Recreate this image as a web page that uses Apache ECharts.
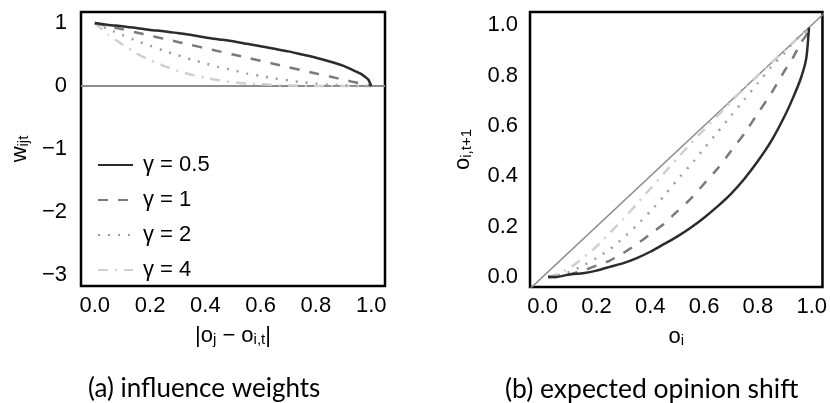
<!DOCTYPE html>
<html>
<head>
<meta charset="utf-8">
<script src="https://cdn.jsdelivr.net/npm/echarts@6/dist/echarts.min.js"></script>
<style>
  html, body { margin: 0; padding: 0; background: #fff; }
  #chart { width: 830px; height: 403px; }
</style>
</head>
<body>
<div id="chart"></div>
<script>
// (a) influence weights: distance |o_j - o_i,t| against weight
const distA = [0, 0.05, 0.1, 0.15, 0.2, 0.25, 0.3, 0.35, 0.4, 0.45, 0.5, 0.55, 0.6, 0.65, 0.7, 0.75, 0.8, 0.85, 0.9, 0.93, 0.96, 0.98, 0.99, 1.0];
const weightG05 = [1, 0.97, 0.95, 0.92, 0.89, 0.87, 0.84, 0.81, 0.77, 0.74, 0.71, 0.67, 0.63, 0.59, 0.55, 0.5, 0.45, 0.39, 0.32, 0.26, 0.2, 0.14, 0.1, 0];
const weightG1 = [1, 0.95, 0.9, 0.85, 0.8, 0.75, 0.7, 0.65, 0.6, 0.55, 0.5, 0.45, 0.4, 0.35, 0.3, 0.25, 0.2, 0.15, 0.1, 0.07, 0.04, 0.02, 0.01, 0];
const weightG2 = [1, 0.9, 0.81, 0.72, 0.64, 0.56, 0.49, 0.42, 0.36, 0.3, 0.25, 0.2, 0.16, 0.12, 0.09, 0.06, 0.04, 0.02, 0.01, 0.005, 0, 0, 0, 0];
const weightG4 = [1, 0.81, 0.66, 0.52, 0.41, 0.32, 0.24, 0.18, 0.13, 0.09, 0.06, 0.04, 0.03, 0.015, 0.01, 0.004, 0, 0, 0, 0, 0, 0, 0, 0];

// (b) expected opinion shift: o_i against o_i,t+1
const opinionB = [0.02, 0.05, 0.1, 0.15, 0.2, 0.25, 0.3, 0.35, 0.4, 0.45, 0.5, 0.55, 0.6, 0.65, 0.7, 0.75, 0.8, 0.85, 0.9, 0.93, 0.96, 0.98, 0.99];
const shiftG05 = [0, 0, 0.01, 0.015, 0.025, 0.04, 0.055, 0.075, 0.1, 0.13, 0.16, 0.195, 0.235, 0.28, 0.33, 0.39, 0.46, 0.54, 0.64, 0.71, 0.79, 0.87, 0.99];
const shiftG1 = [0, 0, 0.01, 0.025, 0.045, 0.065, 0.095, 0.13, 0.17, 0.21, 0.26, 0.31, 0.37, 0.43, 0.5, 0.57, 0.65, 0.73, 0.82, 0.87, 0.93, 0.96, 0.99];
const shiftG2 = [0, 0.005, 0.02, 0.045, 0.075, 0.11, 0.155, 0.205, 0.26, 0.32, 0.385, 0.445, 0.51, 0.575, 0.64, 0.705, 0.77, 0.835, 0.89, 0.93, 0.96, 0.98, 0.99];
const shiftG4 = [0, 0.01, 0.035, 0.075, 0.12, 0.175, 0.23, 0.29, 0.35, 0.41, 0.47, 0.53, 0.585, 0.64, 0.695, 0.75, 0.8, 0.85, 0.9, 0.93, 0.96, 0.98, 0.99];

const gammaNames = ["γ = 0.5", "γ = 1", "γ = 2", "γ = 4"];
const zeroLine = [[-0.05, 0], [1.05, 0]];
const diagLine = [[-0.06, -0.06], [1.06, 1.06]];
const xTicks = [0, 0.2, 0.4, 0.6, 0.8, 1.0];
const yTicksA = [-3, -2, -1, 0, 1];
const yTicksB = [0, 0.2, 0.4, 0.6, 0.8, 1.0];

const lineStyles = [
  { color: "#2b2b2b", width: 2.5, type: "solid" },
  { color: "#7a7a7a", width: 2.5, type: [10, 10] },
  { color: "#9e9e9e", width: 2.5, type: [2, 8] },
  { color: "#cfcfcf", width: 2.5, type: [10, 7, 2, 7] },
];

const pair = (xs, ys) => xs.map((x, i) => [x, ys[i]]);

const tickFont = { fontFamily: "Liberation Sans", fontSize: 22, color: "#000" };
const nameRich = {
  n: { fontFamily: "Liberation Sans", fontSize: 22, color: "#000", lineHeight: 22, verticalAlign: "top" },
  s: { fontFamily: "Liberation Sans", fontSize: 15, color: "#000", lineHeight: 15, verticalAlign: "bottom", padding: [10, 0, 0, 0] },
};

function valueAxis(gridIndex, min, max, ticks, margin, fmt, name, nameGap, isY) {
  return {
    type: "value",
    gridIndex: gridIndex,
    min: min,
    max: max,
    axisLine: { show: false },
    axisTick: { show: false },
    splitLine: { show: false },
    axisLabel: Object.assign({ customValues: ticks, margin: margin, formatter: fmt }, tickFont),
    name: name,
    nameLocation: "middle",
    nameGap: nameGap,
    nameRotate: isY ? 90 : 0,
    nameTextStyle: { rich: nameRich },
  };
}

const oneDec = (v) => v.toFixed(1);
const minusFmt = (v) => String(v).replace("-", "\u2212");

const chart = echarts.init(document.getElementById("chart"));

const series = [];
[weightG05, weightG1, weightG2, weightG4].forEach((ys, i) => {
  series.push({
    name: gammaNames[i], type: "line", xAxisIndex: 0, yAxisIndex: 0,
    data: pair(distA, ys), showSymbol: false, symbol: "none", smooth: 0.2,
    lineStyle: lineStyles[i], itemStyle: { color: lineStyles[i].color },
    z: 10 - i, animation: false,
  });
});
[shiftG05, shiftG1, shiftG2, shiftG4].forEach((ys, i) => {
  series.push({
    name: gammaNames[i], type: "line", xAxisIndex: 1, yAxisIndex: 1,
    data: pair(opinionB, ys), showSymbol: false, symbol: "none", smooth: 0.2,
    lineStyle: lineStyles[i], itemStyle: { color: lineStyles[i].color },
    z: 10 - i, animation: false,
  });
});
series.push({
  type: "line", xAxisIndex: 0, yAxisIndex: 0, data: zeroLine, symbol: "none",
  lineStyle: { color: "#8c8c8c", width: 2 }, z: 2, animation: false,
});
series.push({
  type: "line", xAxisIndex: 1, yAxisIndex: 1, data: diagLine, symbol: "none",
  lineStyle: { color: "#8c8c8c", width: 1.5 }, z: 2, animation: false,
});

chart.setOption({
  animation: false,
  grid: [
    { left: 81, top: 12, width: 304, height: 274, show: true, borderColor: "#000", borderWidth: 2.5, backgroundColor: "#fff" },
    { left: 530, top: 12, width: 298, height: 275, show: true, borderColor: "#000", borderWidth: 2.5, backgroundColor: "#fff" },
  ],
  xAxis: [
    valueAxis(0, -0.05, 1.05, xTicks, 9, oneDec, "{n||o}{s|j}{n| \u2212 o}{s|i,t}{n||}", 26, false),
    valueAxis(1, -0.047, 1.04, xTicks, 9, oneDec, "{n|o}{s|i}", 26, false),
  ],
  yAxis: [
    valueAxis(0, -3.175, 1.175, yTicksA, 14, minusFmt, "{n|w}{s|ijt}", 50, true),
    valueAxis(1, -0.04, 1.052, yTicksB, 12, oneDec, "{n|o}{s|i,t+1}", 56, true),
  ],
  legend: {
    data: gammaNames,
    orient: "vertical",
    left: 92,
    top: 149,
    itemWidth: 35,
    itemHeight: 14,
    itemGap: 13,
    selectedMode: false,
    itemStyle: { opacity: 0 },
    textStyle: { fontFamily: "Liberation Sans", fontSize: 22, color: "#000", padding: [0, 0, 0, 5] },
  },
  graphic: [
    { type: "text", left: 88, top: 376, style: { text: "(a) influence weights", font: "26px Lato", fill: "#000" } },
    { type: "text", left: 505, top: 376, style: { text: "(b) expected opinion shift", font: "26.5px Lato", fill: "#000" } },
  ],
  series: series,
});
</script>
</body>
</html>
